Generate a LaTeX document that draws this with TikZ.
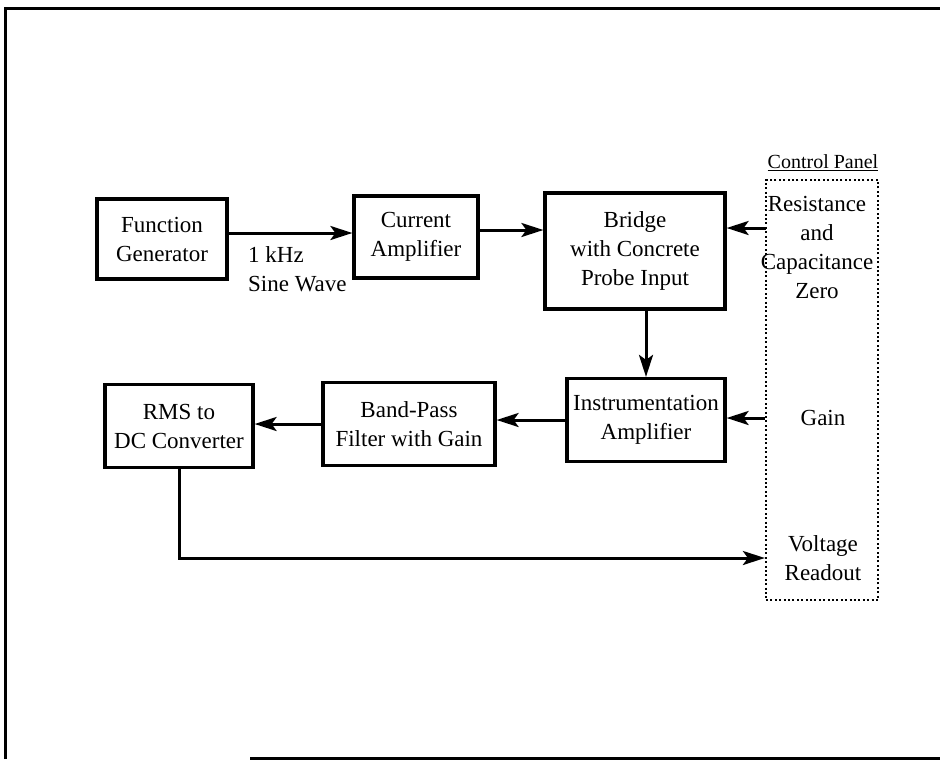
\documentclass[tikz,border=0pt]{standalone}
\usepackage{fontspec}
\setmainfont{Liberation Serif}
\usepackage{tikz}
\usetikzlibrary{arrows.meta, positioning, calc}
\tikzset{
  blk/.style={rectangle, draw, line width=3.2pt, align=center,
              inner sep=2pt, font=\fontsize{23}{29}\selectfont},
  arr/.style={-{Stealth[length=22pt,width=14pt,inset=5pt]}, line width=3pt},
  lbl/.style={align=center, inner sep=0pt, font=\fontsize{23}{29}\selectfont},
  panelbox/.style={rectangle, draw, line width=2.2pt,
                   dash pattern=on 2pt off 2.4pt},
}

\begin{document}
\begin{tikzpicture}[x=1pt, y=-1pt]
  \useasboundingbox (0,0) rectangle (940,761);

  % page frame
  \draw[line width=3pt] (5,759) -- (5,8) -- (940,8);
  \draw[line width=3pt] (250,758) -- (940,758);

  % top row
  \node[blk, minimum width=130pt, minimum height=80pt] (fgen) at (162,239) {Function\\Generator};
  \node[blk, minimum width=124pt, minimum height=82pt] (camp) at (416,237) {Current\\Amplifier};
  \node[blk, minimum width=180pt, minimum height=116pt] (bridge) at (635,251) {Bridge\\with Concrete\\Probe Input};

  % bottom row
  \node[blk, minimum width=158pt, minimum height=83pt] (instr) at (646,420) {Instrumentation\\Amplifier};
  \node[blk, minimum width=172pt, minimum height=83pt] (bpf) at (409,424) {Band-Pass\\Filter with Gain};
  \node[blk, minimum width=148pt, minimum height=83pt] (rms) at (179,426) {RMS to\\DC Converter};

  % control panel
  \node[panelbox, minimum width=112pt, minimum height=420pt] (panel) at (822,390) {};
  \node[font=\fontsize{20}{22}\selectfont, inner sep=0pt] (ptitle) at (823,163) {\underline{Control Panel}};
  \node[lbl] (rzero) at (817,247) {Resistance\\and\\Capacitance\\Zero};
  \node[lbl] (gain) at (823,418) {Gain};
  \node[lbl] (volt) at (823,558) {Voltage\\Readout};
  \coordinate (rzin) at (766,228);

  \node[lbl, align=left, anchor=north west] (sig) at (248,246) {1 kHz\\Sine Wave};

  \draw[arr] ([yshift=6pt]fgen.east) -- ([yshift=6pt]fgen.east -| camp.west);
  \draw[arr] ([yshift=7pt]camp.east) -- ([yshift=7pt]camp.east -| bridge.west);
  \draw[arr] (rzin) -- (rzin -| bridge.east);
  \draw[arr] (bridge.south -| instr) -- (instr.north);
  \draw[arr] (panel.west |- gain) -- (gain -| instr.east);
  \draw[arr] (instr.west) -- (instr.west -| bpf.east);
  \draw[arr] (bpf.west) -- (bpf.west -| rms.east);
  \draw[arr] (rms.south) |- (panel.west |- volt);

\end{tikzpicture}
\end{document}
